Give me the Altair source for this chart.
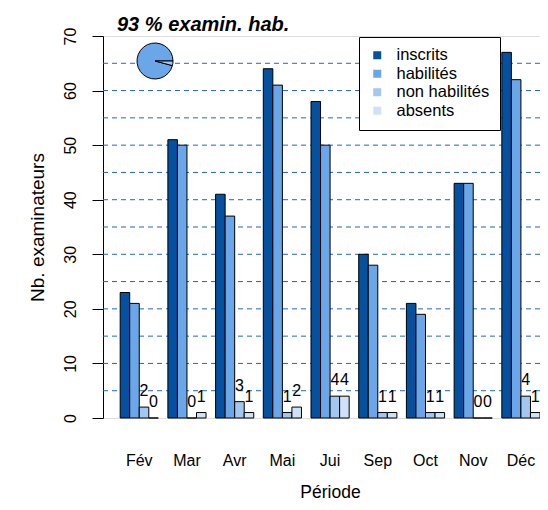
import math
import altair as alt
import pandas as pd

mois = ["Fév", "Mar", "Avr", "Mai", "Jui", "Sep", "Oct", "Nov", "Déc"]
series = ["inscrits", "habilités", "non habilités", "absents"]
inscrits = [23, 51, 41, 64, 58, 30, 21, 43, 67]
habilites = [21, 50, 37, 61, 50, 28, 19, 43, 62]
non_habilites = [2, 0, 3, 1, 4, 1, 1, 0, 4]
absents = [0, 1, 1, 2, 4, 1, 1, 0, 1]
grille = [5, 10, 15, 20, 25, 30, 35, 40, 45, 50, 55, 60, 65]
titre = "93 % examin. hab."

couleurs = ["#0650A0", "#6AA6E8", "#A2C7F0", "#CFE2F6"]
FONT = "Liberation Sans"

rows = []
for s, vals in zip(series, [inscrits, habilites, non_habilites, absents]):
    for m, v in zip(mois, vals):
        rows.append({"mois": m, "serie": s, "valeur": v})
df = pd.DataFrame(rows)

df_grille = pd.DataFrame({"y": grille})
df_pie = pd.DataFrame({
    "serie": ["habilités", "non habilités"],
    "valeur": [sum(habilites), sum(non_habilites)],
    "ordre": [2, 1],
})

color = alt.Color(
    "serie:N",
    sort=series,
    scale=alt.Scale(domain=series, range=couleurs),
    legend=alt.Legend(
        title=None,
        orient="none",
        legendX=256,
        legendY=1,
        padding=10,
        strokeColor="black",
        fillColor="white",
        cornerRadius=0,
        symbolType="square",
        symbolSize=64,
        symbolStrokeWidth=0,
        labelFontSize=16.5,
        labelFont=FONT,
        labelColor="black",
        labelOffset=11,
        rowPadding=1.5,
    ),
)

x_enc = alt.X(
    "mois:N",
    sort=mois,
    scale=alt.Scale(paddingInner=0.2, paddingOuter=0.18, align=1),
    axis=alt.Axis(
        title="Période",
        domain=False,
        ticks=False,
        tickSize=0,
        labelAngle=0,
        labelFontSize=16,
        labelFont=FONT,
        labelColor="black",
        labelBaseline="alphabetic",
        labelPadding=47,
        titleFont=FONT,
        titleFontSize=17.5,
        titleFontWeight="normal",
        titleColor="black",
        titleBaseline="alphabetic",
        titleY=79,
        titleX=227,
    ),
)
xoff = alt.XOffset("serie:N", sort=series, scale=alt.Scale(paddingInner=0, paddingOuter=0))
y_enc = alt.Y(
    "valeur:Q",
    scale=alt.Scale(domain=[0, 70], nice=False, zero=True),
    axis=alt.Axis(
        title="Nb. examinateurs",
        values=[0, 10, 20, 30, 40, 50, 60, 70],
        grid=False,
        domainColor="black",
        tickColor="black",
        tickSize=11,
        labelAngle=270,
        labelAlign="center",
        labelBaseline="bottom",
        labelPadding=14,
        labelFontSize=16,
        labelFont=FONT,
        labelColor="black",
        titleFont=FONT,
        titleFontSize=19,
        titleFontWeight="normal",
        titleColor="black",
        titleAngle=270,
        titleAlign="center",
        titleBaseline="alphabetic",
        titleX=-60,
        titleY=191,
    ),
)

grid = alt.Chart(df_grille).mark_rule(
    color="#2365C0", strokeDash=[5, 4], strokeWidth=1
).encode(y=alt.Y("y:Q"))

bars = alt.Chart(df).mark_bar(stroke="black", strokeWidth=1).encode(
    x=x_enc, xOffset=xoff, y=y_enc, color=color
)

labels = alt.Chart(df).transform_filter(
    alt.FieldOneOfPredicate(field="serie", oneOf=["non habilités", "absents"])
).mark_text(
    font=FONT, fontSize=16, color="black", baseline="alphabetic", dy=-11
).encode(
    x=alt.X("mois:N", sort=mois),
    xOffset=alt.XOffset("serie:N", sort=series),
    y=alt.Y("valeur:Q"),
    text=alt.Text("valeur:Q"),
)

pie = alt.Chart(df_pie).mark_arc(radius=18, stroke="black", strokeWidth=1).encode(
    theta=alt.Theta("valeur:Q", stack=True,
                    scale=alt.Scale(range=[math.pi / 2, math.pi / 2 + 2 * math.pi])),
    color=alt.Color("serie:N"),
    order=alt.Order("ordre:Q"),
    x=alt.value(52),
    y=alt.value(25),
)

chart = alt.layer(grid, bars, labels, pie).resolve_scale(theta="independent").properties(
    width=437,
    height=382,
    padding={"left": 95, "top": 28, "right": 0, "bottom": 84},
    autosize=alt.AutoSizeParams(type="none"),
    title=alt.Title(
        titre,
        anchor="start",
        frame="group",
        font=FONT,
        fontSize=20,
        fontWeight="bold",
        fontStyle="italic",
        color="black",
        dx=14,
        offset=-8,
    ),
).configure_view(stroke=None).configure(background="white")

chart.save("out.html", embed_options={"renderer": "svg", "actions": False})
